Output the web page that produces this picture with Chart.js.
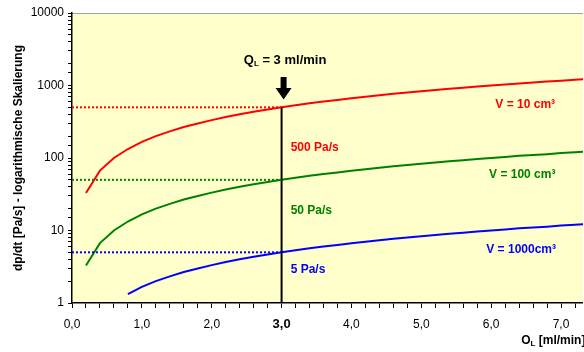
<!DOCTYPE html>
<html lang="de">
<head>
  <meta charset="UTF-8">
  <title>dp/dt logarithmisch</title>
  <script src="https://cdn.jsdelivr.net/npm/chart.js"></script>
  <style>
    html, body { margin: 0; padding: 0; background: #fff; }
    #wrap { width: 584px; height: 352px; }
  </style>
</head>
<body>
  <div id="wrap"><canvas id="dpChart" width="584" height="352"></canvas></div>
  <script>
    // Durchfluss Q_L [ml/min]
    const flowX = [0.2, 0.4, 0.6, 0.8, 1.0, 1.2, 1.4, 1.6, 1.8, 2.0, 2.2, 2.4, 2.6, 2.8, 3.0, 3.2, 3.4, 3.6, 3.8,
                   4.0, 4.2, 4.4, 4.6, 4.8, 5.0, 5.2, 5.4, 5.6, 5.8, 6.0, 6.2, 6.4, 6.6, 6.8, 7.0, 7.2, 7.4];
    // dp/dt [Pa/s] je Volumen
    const v10 = [33, 67, 100, 133, 167, 200, 233, 267, 300, 333, 367, 400, 433, 467, 500, 533, 567, 600, 633,
                 667, 700, 733, 767, 800, 833, 867, 900, 933, 967, 1000, 1033, 1067, 1100, 1133, 1167, 1200, 1233];
    const v100 = [3.3, 6.7, 10, 13.3, 16.7, 20, 23.3, 26.7, 30, 33.3, 36.7, 40, 43.3, 46.7, 50, 53.3, 56.7, 60, 63.3,
                  66.7, 70, 73.3, 76.7, 80, 83.3, 86.7, 90, 93.3, 96.7, 100, 103, 107, 110, 113, 117, 120, 123];
    const blueX = [0.8, 1.0, 1.2, 1.4, 1.6, 1.8, 2.0, 2.2, 2.4, 2.6, 2.8, 3.0, 3.2, 3.4, 3.6, 3.8,
                   4.0, 4.2, 4.4, 4.6, 4.8, 5.0, 5.2, 5.4, 5.6, 5.8, 6.0, 6.2, 6.4, 6.6, 6.8, 7.0, 7.2, 7.4];
    const v1000 = [1.33, 1.67, 2.0, 2.33, 2.67, 3.0, 3.33, 3.67, 4.0, 4.33, 4.67, 5.0, 5.33, 5.67, 6.0, 6.33,
                   6.67, 7.0, 7.33, 7.67, 8.0, 8.33, 8.67, 9.0, 9.33, 9.67, 10, 10.3, 10.7, 11.0, 11.3, 11.7, 12.0, 12.3];
    // Arbeitspunkt
    const qPoint = 3;
    const refLevels = [500, 50, 5];

    const FONT = "'Liberation Sans', Arial, sans-serif";
    const pts = (xs, ys) => xs.map((x, i) => ({ x: x, y: ys[i] }));

    const notes = [
      { text: "500 Pa/s", x: 3.13, y: 137, color: "#ff0000" },
      { text: "50 Pa/s", x: 3.13, y: 18.6, color: "#008000" },
      { text: "5 Pa/s", x: 3.13, y: 2.85, color: "#0000ff" },
      { text: "V = 10 cm\u00b3", x: 6.06, y: 538, color: "#ff0000" },
      { text: "V = 100 cm\u00b3", x: 5.97, y: 58, color: "#008000" },
      { text: "V = 1000cm\u00b3", x: 5.93, y: 5.4, color: "#0000ff" }
    ];

    const decor = {
      id: "decor",
      beforeDraw(chart) {
        const { ctx, chartArea: a } = chart;
        ctx.save();
        ctx.fillStyle = "#ffffff";
        ctx.fillRect(0, 0, chart.width, chart.height);
        ctx.fillStyle = "#ffffcc";
        ctx.fillRect(a.left, a.top, a.right - a.left, a.bottom - a.top);
        ctx.strokeStyle = "#a0a0a0";
        ctx.lineWidth = 1;
        ctx.beginPath();
        ctx.moveTo(a.left, a.top + 0.5);
        ctx.lineTo(a.right, a.top + 0.5);
        ctx.stroke();
        ctx.restore();
      },
      afterDatasetsDraw(chart) {
        const { ctx } = chart;
        const xs = chart.scales.x, ys = chart.scales.y;
        ctx.save();

        // arrow
        const ax = xs.getPixelForValue(qPoint) + 2;
        const yTop = ys.getPixelForValue(1310);
        const yHead = ys.getPixelForValue(925);
        const yTip = ys.getPixelForValue(640);
        ctx.fillStyle = "#000";
        ctx.beginPath();
        ctx.moveTo(ax - 3, yTop);
        ctx.lineTo(ax + 3, yTop);
        ctx.lineTo(ax + 3, yHead);
        ctx.lineTo(ax + 8, yHead);
        ctx.lineTo(ax, yTip);
        ctx.lineTo(ax - 8, yHead);
        ctx.lineTo(ax - 3, yHead);
        ctx.closePath();
        ctx.fill();

        // Q_L label
        ctx.textBaseline = "middle";
        const qx = xs.getPixelForValue(3.05);
        const qy = ys.getPixelForValue(2250);
        const big = "bold 13px " + FONT, small = "bold 8px " + FONT;
        ctx.font = big;
        const wQ = ctx.measureText("Q").width;
        const wRest = ctx.measureText(" = 3 ml/min").width;
        ctx.font = small;
        const wL = ctx.measureText("L").width;
        let sx = qx - (wQ + wL + wRest) / 2;
        ctx.font = big; ctx.textAlign = "left";
        ctx.fillText("Q", sx, qy);
        ctx.font = small;
        ctx.fillText("L", sx + wQ, qy + 4);
        ctx.font = big;
        ctx.fillText(" = 3 ml/min", sx + wQ + wL, qy);

        // curve labels
        ctx.font = "bold 12px " + FONT;
        notes.forEach(n => {
          ctx.fillStyle = n.color;
          ctx.fillText(n.text, xs.getPixelForValue(n.x), ys.getPixelForValue(n.y));
        });

        // x axis title O_L [ml/min]
        ctx.fillStyle = "#000";
        const tx = xs.getPixelForValue(6.43);
        const ty = xs.bottom - 11;
        ctx.font = "bold 12px " + FONT;
        ctx.fillText("O", tx, ty);
        const wO = ctx.measureText("O").width;
        ctx.font = "bold 8px " + FONT;
        ctx.fillText("L", tx + wO, ty + 3);
        const wL2 = ctx.measureText("L").width;
        ctx.font = "bold 12px " + FONT;
        ctx.fillText(" [ml/min]", tx + wO + wL2, ty);
        ctx.restore();
      }
    };

    const curve = (label, data, color) => ({
      label, data, borderColor: color, backgroundColor: color,
      borderWidth: 2, pointRadius: 0, tension: 0, fill: false
    });
    const dotted = (level, color) => ({
      label: "ref " + level, data: [{ x: 0, y: level }, { x: qPoint, y: level }],
      borderColor: color, borderWidth: 2, borderDash: [2, 2], pointRadius: 0, fill: false
    });

    new Chart(document.getElementById("dpChart"), {
      type: "line",
      data: {
        datasets: [
          dotted(refLevels[0], "#ff0000"),
          dotted(refLevels[1], "#008000"),
          dotted(refLevels[2], "#0000ff"),
          {
            label: "Q_L", data: [{ x: qPoint, y: 1 }, { x: qPoint, y: refLevels[0] }],
            borderColor: "#000", borderWidth: 2, pointRadius: 0, fill: false
          },
          curve("V = 10 cm3", pts(flowX, v10), "#ff0000"),
          curve("V = 100 cm3", pts(flowX, v100), "#008000"),
          curve("V = 1000 cm3", pts(blueX, v1000), "#0000ff")
        ]
      },
      options: {
        responsive: false,
        animation: false,
        events: [],
        layout: { padding: { top: 13, right: 0, left: 0, bottom: 0 } },
        plugins: { legend: { display: false }, tooltip: { enabled: false } },
        scales: {
          x: {
            type: "linear",
            min: 0,
            max: 7.314,
            afterFit: s => { s.height = 49; },
            border: { color: "#000", width: 1.5 },
            grid: { display: true, drawOnChartArea: false, drawTicks: true, tickLength: 5, tickColor: "#000", tickWidth: 1 },
            ticks: {
              stepSize: 0.2,
              includeBounds: false,
              autoSkip: false,
              maxRotation: 0,
              color: "#000",
              padding: 9,
              font: c => (c.tick && Math.abs(c.tick.value - 3) < 1e-6)
                ? { family: FONT, size: 13, weight: "bold" }
                : { family: FONT, size: 12 },
              callback: v => {
                const r = Math.round(v * 10) / 10;
                return Math.abs(r - Math.round(r)) < 1e-6 ? r.toFixed(1).replace(".", ",") : "";
              }
            }
          },
          y: {
            type: "logarithmic",
            min: 1,
            max: 10000,
            afterFit: s => { s.width = 72; },
            border: { color: "#000", width: 1.5 },
            grid: { display: true, drawOnChartArea: false, drawTicks: true, tickLength: 4, tickColor: "#000", tickWidth: 1 },
            title: {
              display: true,
              text: "dp/dt [Pa/s] - logarithmische Skalierung",
              color: "#000",
              font: { family: FONT, size: 12, weight: "bold" },
              padding: { top: 11, bottom: 0 }
            },
            ticks: {
              autoSkip: false,
              color: "#000",
              padding: 4,
              font: { family: FONT, size: 12 },
              callback: v => {
                const l = Math.log10(v);
                return Math.abs(l - Math.round(l)) < 1e-9 ? String(v) : "";
              }
            }
          }
        }
      },
      plugins: [decor]
    });
  </script>
</body>
</html>
